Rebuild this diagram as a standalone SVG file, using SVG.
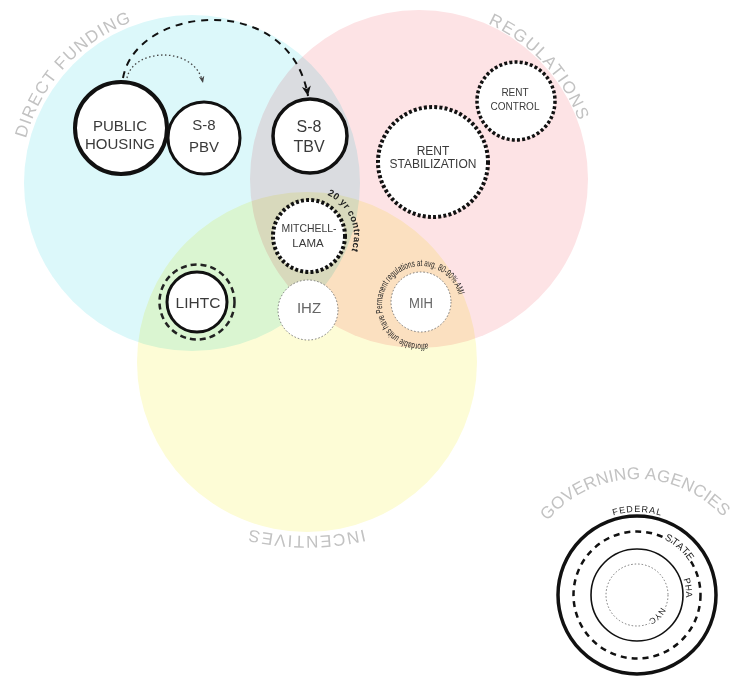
<svg xmlns="http://www.w3.org/2000/svg" width="735" height="677" viewBox="0 0 735 677">
<defs>
<style>
.lbl{font-family:"Liberation Sans",Arial,sans-serif;fill:#3a3a3a;text-anchor:middle}
.lite{fill:#666}
.arc{font-family:"Liberation Sans",Arial,sans-serif;fill:#c2c2c2;font-size:17px}
.tiny{font-family:"Liberation Sans",Arial,sans-serif;fill:#222}
.halo{paint-order:stroke;stroke:#fff;stroke-width:3px;stroke-linejoin:round}
.solid{fill:#fff;stroke:#111}
.dots{fill:#fff;stroke:#111;stroke-dasharray:3 2.2}
.thin{fill:#fff;stroke:#777;stroke-width:1;stroke-dasharray:1.5 2}
.blend{mix-blend-mode:multiply}
</style>
<marker id="ahBig" viewBox="0 0 10 10" refX="10" refY="5" markerWidth="10" markerHeight="10" markerUnits="userSpaceOnUse" orient="auto">
<path d="M0,0.5 L10,5 L0,9.5 L3,5 z" fill="#111"/>
</marker>
<marker id="ahSmall" viewBox="0 0 10 10" refX="10" refY="5" markerWidth="7" markerHeight="7" markerUnits="userSpaceOnUse" orient="auto">
<path d="M0,1 L10,5 L0,9 L3,5 z" fill="#444"/>
</marker>
<path id="p-df" d="M25.9,138.5 A172,172 0 0 1 131.8,21.9"/>
<path id="p-reg" d="M488.1,23.7 A170,170 0 0 1 578.7,120.9"/>
<path id="p-inc" d="M364.1,529.4 A250,250 0 0 1 249.9,529.4"/>
<path id="p-gov" d="M547.5,521.2 A116,116 0 0 1 723.2,517.4"/>
<path id="p-fed" d="M613.3,515.5 A83,83 0 0 1 660.7,515.5"/>
<path id="p-state" d="M664.2,539.3 A62,62 0 0 1 689.0,561.2"/>
<path id="p-pha" d="M683.3,579.0 A49,49 0 0 1 685.9,597.6"/>
<path id="p-nyc" d="M661.1,607.3 A27,27 0 0 1 648.4,619.5"/>
<path id="p-20" d="M327.3,194.9 A45,45 0 0 1 351.5,250.7"/>
<path id="p-mih" d="M427.8,343.4 A39,39 0 1 1 458.7,294.9"/>
</defs>
<rect width="735" height="677" fill="#fff"/>

<g id="spheres" style="isolation:isolate">
<circle id="direct-funding" class="blend" cx="192" cy="183" r="168" fill="#dcf8fa"/>
<circle id="regulations" class="blend" cx="419" cy="179" r="169" fill="#fde3e5"/>
<circle id="incentives" class="blend" cx="307" cy="362" r="170" fill="#fdfcd6"/>
</g>

<g id="sphere-labels">
<text class="arc"><textPath href="#p-df" textLength="163" lengthAdjust="spacing">DIRECT FUNDING</textPath></text>
<text class="arc"><textPath href="#p-reg" textLength="136" lengthAdjust="spacing">REGULATIONS</textPath></text>
<text class="arc"><textPath href="#p-inc" textLength="115" lengthAdjust="spacing">INCENTIVES</textPath></text>
</g>

<g id="connectors" fill="none">
<path d="M123,78 C136,5 290,-10 308,96" stroke="#111" stroke-width="2" stroke-dasharray="7 6" marker-end="url(#ahBig)"/>
<path d="M127,78 C133,48 195,45 203,83" stroke="#444" stroke-width="1.3" stroke-dasharray="1.5 2.5" marker-end="url(#ahSmall)"/>
</g>

<g id="public-housing">
<circle class="solid" cx="121" cy="128" r="46" stroke-width="4"/>
<text class="lbl" x="120" y="131" font-size="15">PUBLIC</text>
<text class="lbl" x="120" y="149" font-size="15">HOUSING</text>
</g>

<g id="s8-pbv">
<circle class="solid" cx="204" cy="138" r="36" stroke-width="3"/>
<text class="lbl" x="204" y="130" font-size="15">S-8</text>
<text class="lbl" x="204" y="152" font-size="15">PBV</text>
</g>

<g id="s8-tbv">
<circle class="solid" cx="310" cy="136" r="37" stroke-width="3.5"/>
<text class="lbl" x="309" y="132" font-size="16">S-8</text>
<text class="lbl" x="309" y="152" font-size="16">TBV</text>
</g>

<g id="rent-stabilization">
<circle class="dots" cx="433" cy="162" r="55" stroke-width="4"/>
<text class="lbl" x="433" y="155" font-size="12">RENT</text>
<text class="lbl" x="433" y="168" font-size="12">STABILIZATION</text>
</g>

<g id="rent-control">
<circle class="dots" cx="516" cy="101" r="39" stroke-width="3.5"/>
<text class="lbl" x="515" y="96" font-size="10">RENT</text>
<text class="lbl" x="515" y="110" font-size="10">CONTROL</text>
</g>

<g id="mitchell-lama">
<circle class="dots" cx="309" cy="236" r="36" stroke-width="4"/>
<text class="lbl" x="309" y="232" font-size="11.5" textLength="55" lengthAdjust="spacingAndGlyphs">MITCHELL-</text>
<text class="lbl" x="308" y="247" font-size="11.5">LAMA</text>
<text class="tiny" font-size="9.5" font-weight="bold"><textPath href="#p-20" textLength="66.8" lengthAdjust="spacing">20 yr contract</textPath></text>
</g>

<g id="ihz">
<circle class="thin" cx="308" cy="310" r="30"/>
<text class="lbl lite" x="309" y="313" font-size="15">IHZ</text>
</g>

<g id="lihtc">
<circle cx="197" cy="302" r="37.5" fill="none" stroke="#222" stroke-width="2.5" stroke-dasharray="6 4"/>
<circle class="solid" cx="197" cy="302" r="30" stroke-width="3"/>
<text class="lbl" x="198" y="308" font-size="15.5">LIHTC</text>
</g>

<g id="mih">
<circle class="thin" cx="421" cy="302" r="30"/>
<text class="lbl lite" x="421" y="308" font-size="15" textLength="24" lengthAdjust="spacingAndGlyphs">MIH</text>
<text class="tiny" font-size="9.5" fill="#111"><textPath href="#p-mih" textLength="180" lengthAdjust="spacingAndGlyphs">affordable units have Permanent regulations at avg. 80-90% AMI</textPath></text>
</g>

<g id="governing-agencies">
<text class="arc" font-size="16"><textPath href="#p-gov" textLength="199" lengthAdjust="spacing">GOVERNING AGENCIES</textPath></text>
<circle cx="637" cy="595" r="79" fill="none" stroke="#111" stroke-width="3.5"/>
<circle cx="637" cy="595" r="63.5" fill="none" stroke="#111" stroke-width="2.5" stroke-dasharray="6 5"/>
<circle cx="637" cy="595" r="46" fill="none" stroke="#111" stroke-width="1.6"/>
<circle cx="637" cy="595" r="31" fill="none" stroke="#777" stroke-width="1" stroke-dasharray="1.5 2"/>
<text class="tiny" font-size="9"><textPath href="#p-fed" textLength="47.9" lengthAdjust="spacing">FEDERAL</textPath></text>
<text class="tiny halo" font-size="10"><textPath href="#p-state" textLength="33.5" lengthAdjust="spacing">STATE</textPath></text>
<text class="tiny halo" font-size="9"><textPath href="#p-pha" textLength="18.8" lengthAdjust="spacing">PHA</textPath></text>
<text class="tiny halo" font-size="8.5"><textPath href="#p-nyc" textLength="17.9" lengthAdjust="spacing">NYC</textPath></text>
</g>
</svg>
